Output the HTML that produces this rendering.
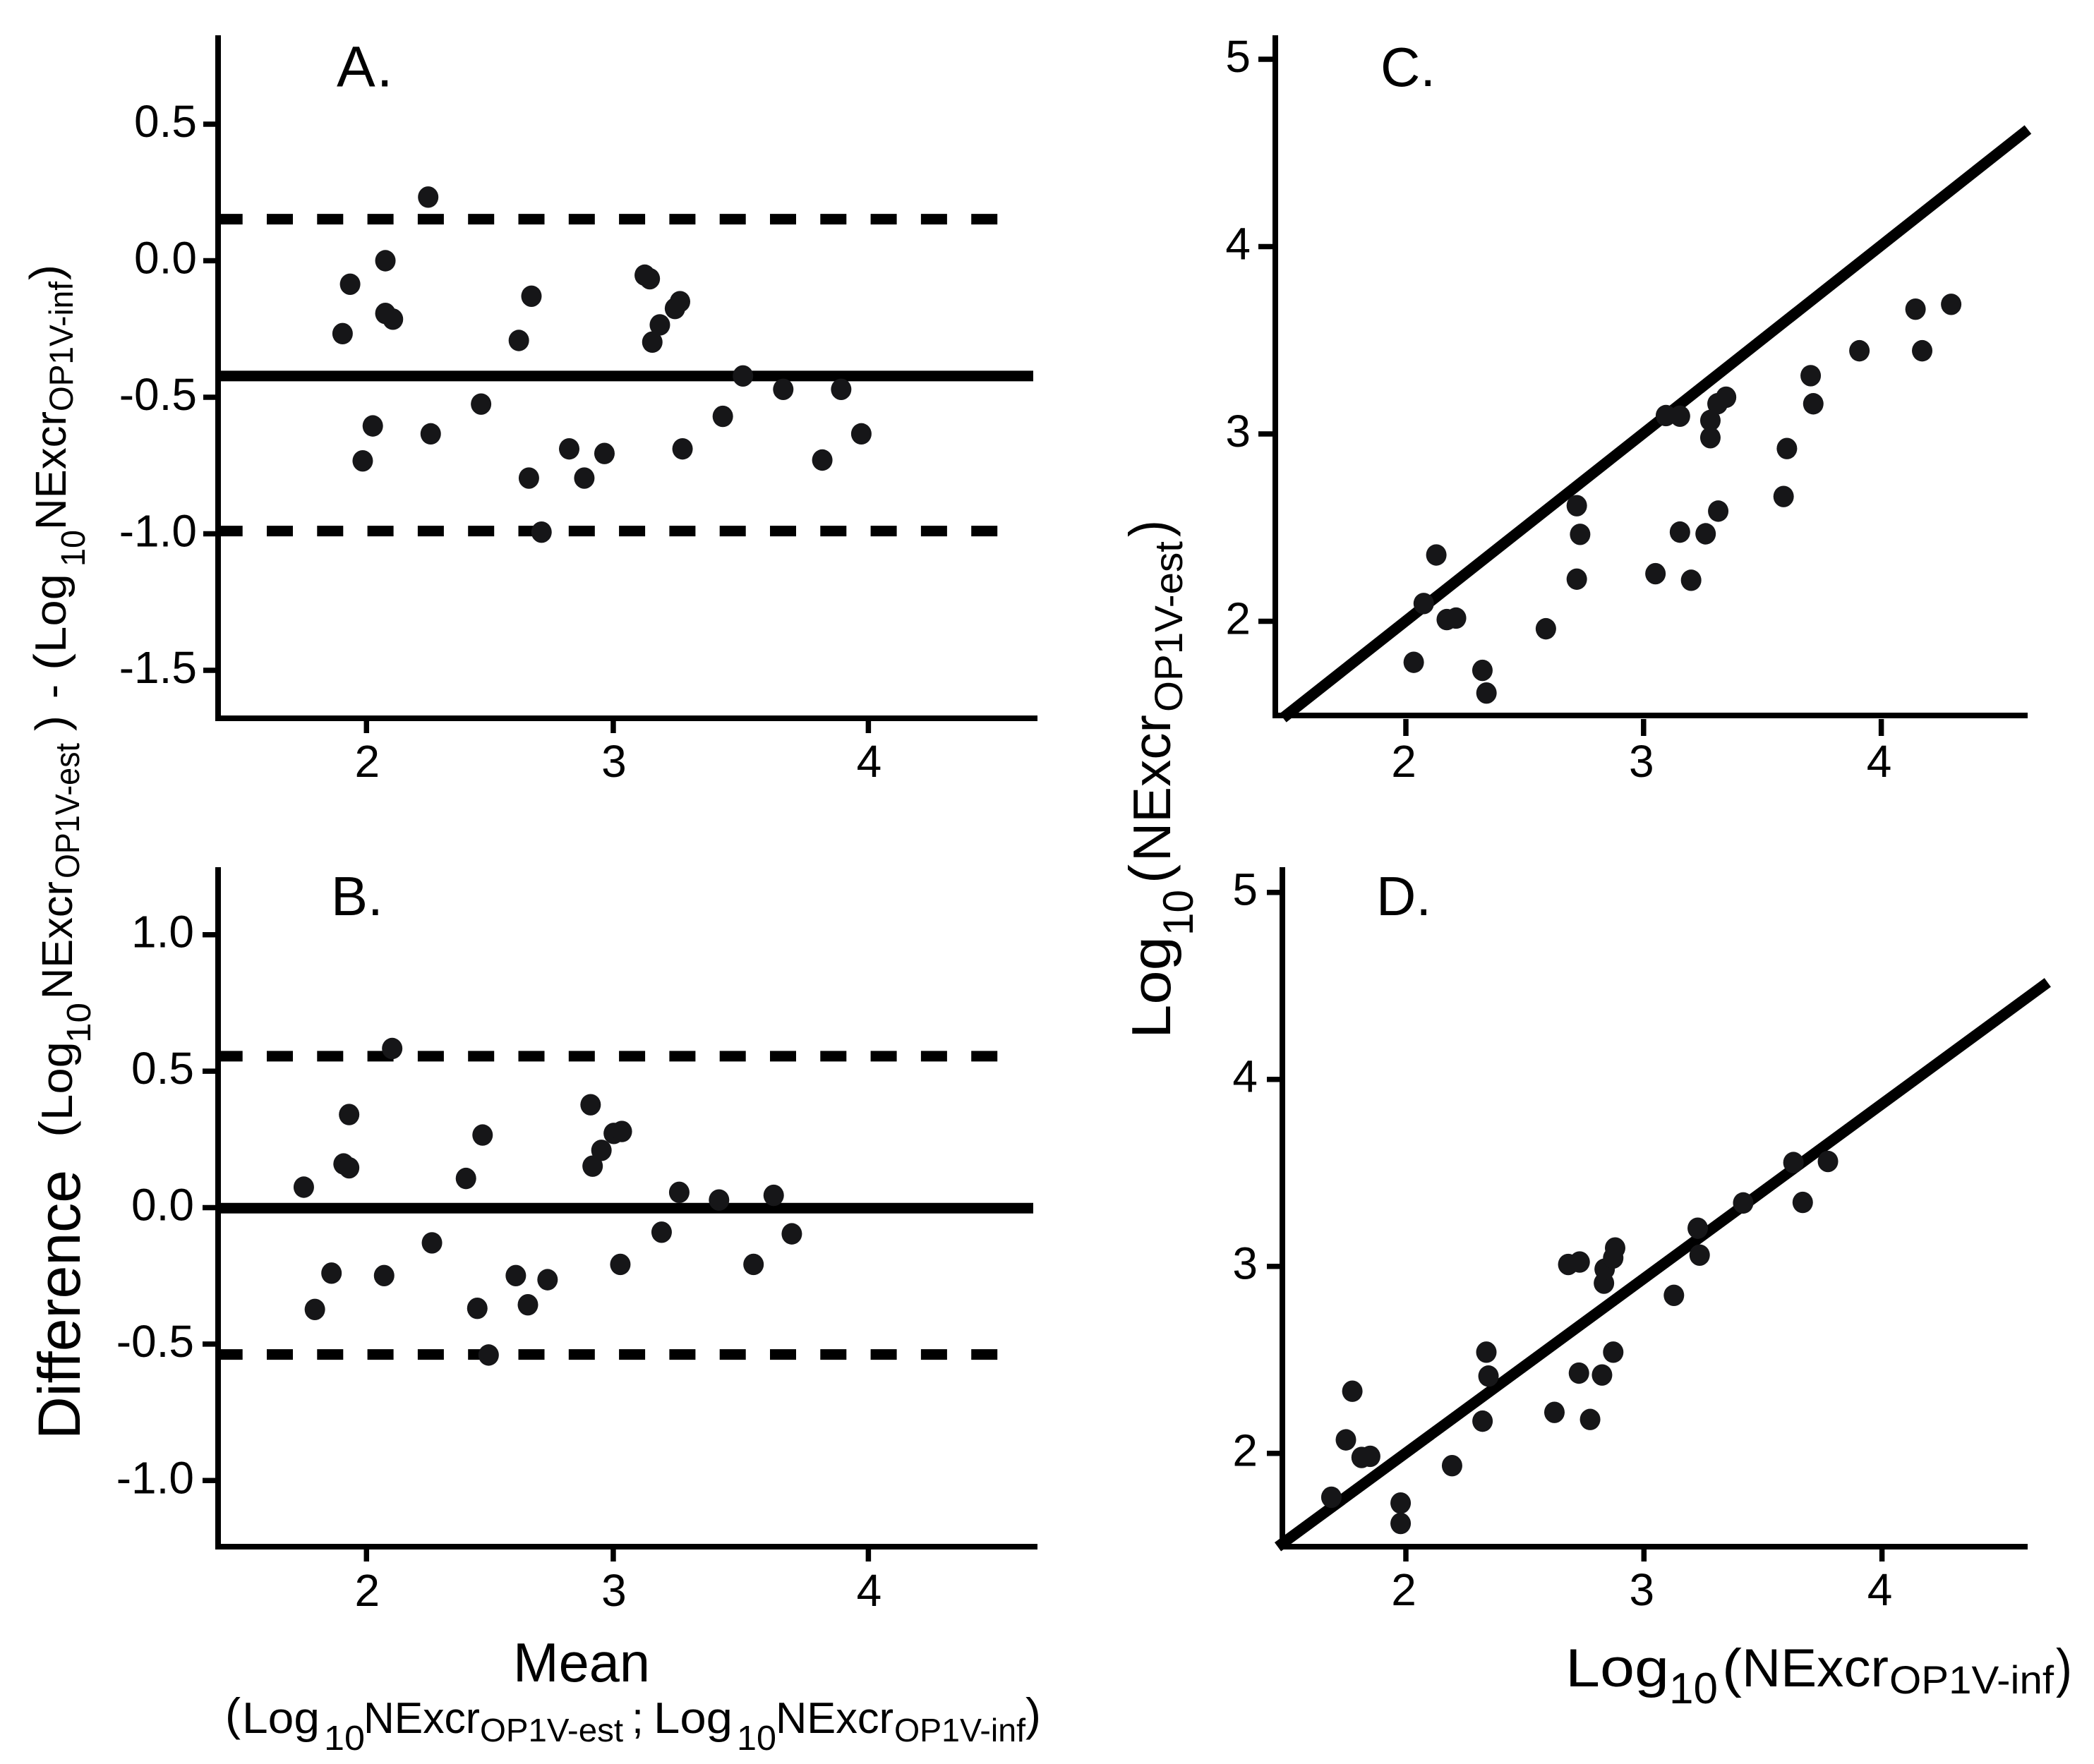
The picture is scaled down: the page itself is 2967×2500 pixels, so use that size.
<!DOCTYPE html>
<html lang="en">
<head>
<meta charset="utf-8">
<title>Bland-Altman and correlation plots</title>
<style>
html,body{margin:0;padding:0;background:#fff}
svg{display:block}
text{font-family:"Liberation Sans",sans-serif;fill:#000}
</style>
</head>
<body>
<svg id="figure" xmlns="http://www.w3.org/2000/svg" width="2967" height="2500" viewBox="0 0 2967 2500">
  <rect width="2967" height="2500" fill="#fff"/>
  <g id="plots"></g>

  <g>
    <text transform="translate(113,2040) rotate(-90)" font-size="84" textLength="382" lengthAdjust="spacingAndGlyphs">Difference</text>
    <text transform="translate(101,1612) rotate(-90)" font-size="65" textLength="24" lengthAdjust="spacingAndGlyphs">(</text>
    <text transform="translate(102,1588) rotate(-90)" font-size="62" textLength="112" lengthAdjust="spacingAndGlyphs">Log</text>
    <text transform="translate(128,1478) rotate(-90)" font-size="48" textLength="57" lengthAdjust="spacingAndGlyphs">10</text>
    <text transform="translate(102,1416) rotate(-90)" font-size="61" textLength="167" lengthAdjust="spacingAndGlyphs">NExcr</text>
    <text transform="translate(112,1245) rotate(-90)" font-size="48" textLength="192" lengthAdjust="spacingAndGlyphs">OP1V-est</text>
    <text transform="translate(95,1036) rotate(-90)" font-size="64" textLength="22" lengthAdjust="spacingAndGlyphs">)</text>
    <text transform="translate(95,990) rotate(-90)" font-size="62" textLength="20" lengthAdjust="spacingAndGlyphs">-</text>
    <text transform="translate(93.5,950) rotate(-90)" font-size="65" textLength="24" lengthAdjust="spacingAndGlyphs">(</text>
    <text transform="translate(93,925) rotate(-90)" font-size="62" textLength="112" lengthAdjust="spacingAndGlyphs">Log</text>
    <text transform="translate(120,803) rotate(-90)" font-size="48" textLength="52" lengthAdjust="spacingAndGlyphs">10</text>
    <text transform="translate(93,751) rotate(-90)" font-size="61" textLength="168" lengthAdjust="spacingAndGlyphs">NExcr</text>
    <text transform="translate(103,583) rotate(-90)" font-size="47" textLength="184" lengthAdjust="spacingAndGlyphs">OP1V-inf</text>
    <text transform="translate(87,397) rotate(-90)" font-size="64" textLength="22" lengthAdjust="spacingAndGlyphs">)</text>
  </g>

  <g>
    <text transform="translate(1658,1472) rotate(-90)" font-size="78" textLength="145" lengthAdjust="spacingAndGlyphs">Log</text>
    <text transform="translate(1690,1326) rotate(-90)" font-size="60" textLength="65" lengthAdjust="spacingAndGlyphs">10</text>
    <text transform="translate(1656,1252) rotate(-90)" font-size="80" textLength="27" lengthAdjust="spacingAndGlyphs">(</text>
    <text transform="translate(1658,1221) rotate(-90)" font-size="75" textLength="208" lengthAdjust="spacingAndGlyphs">NExcr</text>
    <text transform="translate(1675,1009) rotate(-90)" font-size="56" textLength="242" lengthAdjust="spacingAndGlyphs">OP1V-est</text>
    <text transform="translate(1656,761) rotate(-90)" font-size="80" textLength="24" lengthAdjust="spacingAndGlyphs">)</text>
  </g>

  <g>
    <text x="727" y="2383" font-size="78" textLength="194" lengthAdjust="spacingAndGlyphs">Mean</text>
  </g>
  <g>
    <text x="319" y="2452" font-size="65" textLength="22" lengthAdjust="spacingAndGlyphs">(</text>
    <text x="343" y="2456" font-size="62" textLength="110" lengthAdjust="spacingAndGlyphs">Log</text>
    <text x="459" y="2480" font-size="49" textLength="58" lengthAdjust="spacingAndGlyphs">10</text>
    <text x="515" y="2456" font-size="62" textLength="165" lengthAdjust="spacingAndGlyphs">NExcr</text>
    <text x="680" y="2468" font-size="46" textLength="203" lengthAdjust="spacingAndGlyphs">OP1V-est</text>
    <text x="895" y="2456" font-size="62" textLength="17" lengthAdjust="spacingAndGlyphs">;</text>
    <text x="926" y="2456" font-size="62" textLength="112" lengthAdjust="spacingAndGlyphs">Log</text>
    <text x="1044" y="2480" font-size="49" textLength="56" lengthAdjust="spacingAndGlyphs">10</text>
    <text x="1099" y="2456" font-size="62" textLength="167" lengthAdjust="spacingAndGlyphs">NExcr</text>
    <text x="1267" y="2468" font-size="46" textLength="186" lengthAdjust="spacingAndGlyphs">OP1V-inf</text>
    <text x="1453" y="2452" font-size="65" textLength="22" lengthAdjust="spacingAndGlyphs">)</text>
  </g>
  <g>
    <text x="2218" y="2390" font-size="76" textLength="147" lengthAdjust="spacingAndGlyphs">Log</text>
    <text x="2365" y="2414" font-size="62" textLength="69" lengthAdjust="spacingAndGlyphs">10</text>
    <text x="2440" y="2390" font-size="76" textLength="28" lengthAdjust="spacingAndGlyphs">(</text>
    <text x="2468" y="2390" font-size="76" textLength="208" lengthAdjust="spacingAndGlyphs">NExcr</text>
    <text x="2677" y="2400" font-size="56" textLength="233" lengthAdjust="spacingAndGlyphs">OP1V-inf</text>
    <text x="2913" y="2390" font-size="76" textLength="23" lengthAdjust="spacingAndGlyphs">)</text>
  </g>

  <text x="477" y="122.7" font-size="82" letter-spacing="2">A.</text>
  <text x="469" y="1297" font-size="78" letter-spacing="0">B.</text>
  <text x="1956" y="122" font-size="78" letter-spacing="0">C.</text>
  <text x="1950" y="1297" font-size="78" letter-spacing="0">D.</text>
</svg>

<script>
// Panel A: Bland-Altman (mean, difference)
const aMean = [2.25,1.91,1.94,2.08,2.08,2.11,1.99,2.03,2.26,2.46,2.61,2.66,2.65,2.70,2.81,2.87,2.95,3.11,3.13,3.14,3.17,3.23,3.25,3.26,3.42,3.50,3.66,3.815,3.89,3.97];
const aDiff = [0.233,-0.267,-0.086,0.0,-0.193,-0.214,-0.733,-0.605,-0.634,-0.525,-0.292,-0.130,-0.796,-0.994,-0.689,-0.796,-0.706,-0.053,-0.066,-0.298,-0.235,-0.175,-0.150,-0.689,-0.570,-0.422,-0.471,-0.730,-0.471,-0.634];
const aBias = -0.422;
const aLimits = [0.152,-0.99];
const aYTicks = [0.5,0,-0.5,-1,-1.5];
const aYLabels = ["0.5","0.0","-0.5","-1.0","-1.5"];

// Panel B: Bland-Altman (mean, difference)
const bMean = [1.756,1.80,1.866,1.914,1.936,1.936,2.075,2.107,2.265,2.40,2.445,2.466,2.49,2.598,2.646,2.724,2.895,2.903,2.938,2.987,3.019,3.013,3.177,3.247,3.405,3.542,3.622,3.694];
const bDiff = [0.075,-0.373,-0.24,0.16,0.146,0.341,-0.249,0.583,-0.129,0.107,-0.369,0.266,-0.54,-0.249,-0.356,-0.264,0.377,0.152,0.21,0.272,0.279,-0.208,-0.09,0.056,0.028,-0.208,0.045,-0.096];
const bBias = -0.002;
const bLimits = [0.555,-0.538];
const bYTicks = [1,0.5,0,-0.5,-1];
const bYLabels = ["1.0","0.5","0.0","-0.5","-1.0"];

// Panel C: scatter (x, y) with identity line
const cX = [2.033,2.075,2.128,2.172,2.211,2.322,2.339,2.589,2.719,2.733,2.719,3.05,3.094,3.153,3.153,3.2,3.261,3.281,3.281,3.311,3.347,3.314,3.589,3.603,3.703,3.714,3.908,4.144,4.172,4.294];
const cY = [1.781,2.095,2.354,2.009,2.017,1.738,1.617,1.960,2.617,2.464,2.225,2.254,3.098,3.095,2.476,2.219,2.467,3.072,2.98,3.161,3.196,2.588,2.666,2.922,3.311,3.161,3.444,3.666,3.444,3.692];
const cLineX = [1.483,4.617];
const cLineY = [1.484,4.625];

// Panel D: scatter (x, y) with fit line
const dX = [1.687,1.748,1.775,1.814,1.850,1.978,1.978,2.194,2.322,2.338,2.347,2.624,2.682,2.730,2.727,2.774,2.824,2.832,2.835,2.871,2.879,2.871,3.126,3.226,3.234,3.417,3.628,3.667,3.773];
const dY = [1.765,2.072,2.332,1.978,1.984,1.734,1.625,1.934,2.172,2.541,2.413,2.219,3.01,3.023,2.429,2.181,2.419,2.91,2.985,3.045,3.098,2.541,2.845,3.204,3.06,3.339,3.555,3.342,3.561];
const dLineX = [1.462,4.696];
const dLineY = [1.5,4.518];

const baXTicks = [2.005,2.985,3.998];
const scatterXTicks = [2,3,4];
const xLabels = ["2","3","4"];
const scatterYTicks = [5,4,3,2];
const scatterYLabels = ["5","4","3","2"];

const NS = "http://www.w3.org/2000/svg";
const plots = document.getElementById("plots");
const INK = "#000";
const DOT = "#161618";

function axisA_x(v){ return 517.5 + (v - 2) * 356.8; }
function axisA_y(v){ return 369.5 - v * 387; }
function axisB_y(v){ return 1711.5 - v * 386.8; }
function axisC_x(v){ return 1992 + (v - 2) * 336.8; }
function axisC_y(v){ return 880.5 - (v - 2) * 265.5; }
function axisD_x(v){ return 1992 + (v - 2) * 337.3; }
function axisD_y(v){ return 2059.7 - (v - 2) * 265; }

function make(tag, attrs, parent){
  const el = document.createElementNS(NS, tag);
  for (const k in attrs) el.setAttribute(k, attrs[k]);
  parent.appendChild(el);
  return el;
}

function drawAxes(g, box, fx, fy, xTicks, yTicks, yLabels, opt){
  const axisY = make("line", {x1:box.left, x2:box.left, y1:box.top, y2:box.bottom+4, stroke:INK, "stroke-width":8}, g);
  
  
  const axisX = make("line", {x1:box.left-4, x2:box.right, y1:box.bottom, y2:box.bottom, stroke:INK, "stroke-width":8}, g);
  
  
  yTicks.forEach(function(t, i){
    const y = fy(t);
    const tick = make("line", {x1:box.left-opt.yTickLen, x2:box.left, y1:y, y2:y, stroke:INK, "stroke-width":7.5}, g);
    
    
    const label = make("text", {x:box.left-opt.yLabelGap, y:y+18, "font-size":64, "text-anchor":"end"}, g);
    label.textContent = yLabels[i];
    
    
  });
  xTicks.forEach(function(t, i){
    const x = fx(t);
    const tick = make("line", {x1:x, x2:x, y1:box.bottom+opt.xTickGap, y2:box.bottom+opt.xTickEnd, stroke:INK, "stroke-width":7.5}, g);
    
    
    const label = make("text", {x:x+opt.xLabelShift, y:opt.xLabelY, "font-size":64, "text-anchor":"middle"}, g);
    label.textContent = xLabels[i];
    
    
  });
}

function drawPoints(g, xs, ys, fx, fy){
  xs.forEach(function(v, i){
    const c = make("ellipse", {cx:fx(v), cy:fy(ys[i]), rx:14.5, ry:15.2, fill:DOT}, g);
    
    
  });
}

function drawBlandAltman(name, box, fx, fy, xs, ys, bias, limits, yTicks, yLabels, opt){
  const g = make("g", {}, plots);
  
  
  drawAxes(g, box, fx, fy, baXTicks, yTicks, yLabels, opt);
  const solid = make("line", {x1:box.left+2, x2:box.right-6, y1:fy(bias), y2:fy(bias), stroke:INK, "stroke-width":15}, g);
  
  
  limits.forEach(function(v){
    const d = make("line", {x1:box.left-2.3, x2:box.left+1106, y1:fy(v), y2:fy(v), stroke:INK, "stroke-width":15, "stroke-dasharray":"37 34.3"}, g);
    
    
  });
  drawPoints(g, xs, ys, fx, fy);
}

function drawScatter(name, box, fx, fy, xs, ys, lineX, lineY, opt){
  const g = make("g", {}, plots);
  
  
  drawAxes(g, box, fx, fy, scatterXTicks, scatterYTicks, scatterYLabels, opt);
  const l = make("line", {x1:fx(lineX[0]), y1:fy(lineY[0]), x2:fx(lineX[1]), y2:fy(lineY[1]), stroke:INK, "stroke-width":15.5}, g);
  
  
  drawPoints(g, xs, ys, fx, fy);
}

drawBlandAltman("panel-a", {left:309, top:50, bottom:1018, right:1470}, axisA_x, axisA_y, aMean, aDiff, aBias, aLimits, aYTicks, aYLabels,
  {yTickLen:21, yLabelGap:30, xTickGap:0, xTickEnd:21, xLabelShift:1, xLabelY:1101});
drawBlandAltman("panel-b", {left:309, top:1229, bottom:2192, right:1470}, axisA_x, axisB_y, bMean, bDiff, bBias, bLimits, bYTicks, bYLabels,
  {yTickLen:22, yLabelGap:34, xTickGap:0, xTickEnd:21, xLabelShift:1, xLabelY:2276});
drawScatter("panel-c", {left:1807, top:50, bottom:1014, right:2873}, axisC_x, axisC_y, cX, cY, cLineX, cLineY,
  {yTickLen:24, yLabelGap:35, xTickGap:5, xTickEnd:29, xLabelShift:-3, xLabelY:1101});
drawScatter("panel-d", {left:1817, top:1229, bottom:2192, right:2873}, axisD_x, axisD_y, dX, dY, dLineX, dLineY,
  {yTickLen:22, yLabelGap:35, xTickGap:0, xTickEnd:21, xLabelShift:-3, xLabelY:2275});
</script>
</body>
</html>
